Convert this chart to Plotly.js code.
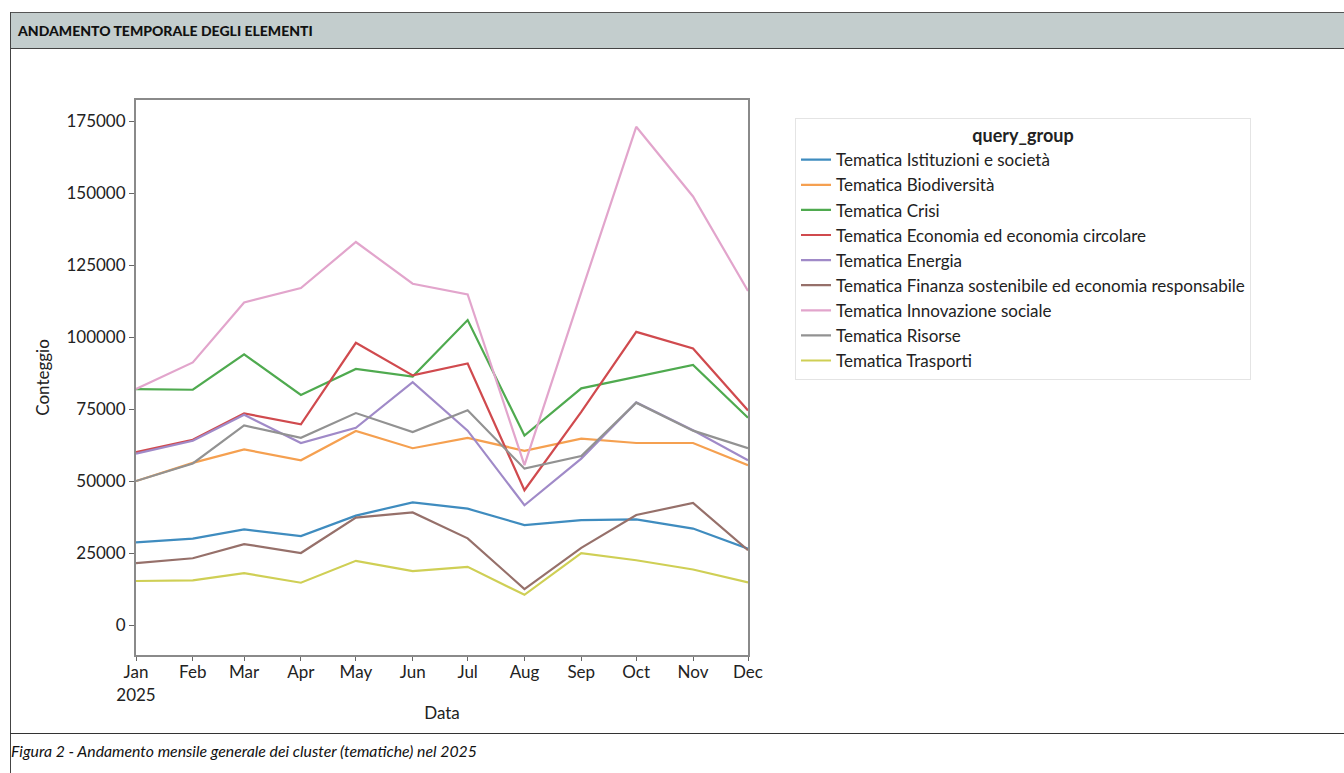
<!DOCTYPE html>
<html>
<head>
<meta charset="utf-8">
<script src="https://cdn.plot.ly/plotly-3.0.1.min.js"></script>
<style>
  html, body { margin: 0; padding: 0; width: 1344px; height: 773px; overflow: hidden; background: #fff; font-family: Lato, "Open Sans", sans-serif; }
  #chart { position: absolute; left: 0; top: 0; width: 1344px; height: 773px; }
  #frameLeft { position: absolute; left: 10px; top: 12px; width: 0; height: 761px; border-left: 1px solid #444; z-index: 5; }
  #header { position: absolute; left: 10px; top: 12px; width: 1334px; height: 35px; background: #c3cdcd; border-top: 1px solid #555; border-bottom: 1px solid #444; z-index: 5; }
  #header span { position: absolute; left: 8px; top: 9px; font-weight: 900; font-size: 14px; color: #111; letter-spacing: 0px; }
  #sep { position: absolute; left: 10px; top: 733px; width: 1334px; border-top: 1px solid #333; z-index: 5; }
  #caption { position: absolute; left: 11px; top: 741px; font-style: italic; font-size: 15.8px; color: #111; z-index: 5; }
</style>
</head>
<body>
<div id="chart"></div>
<div id="header"><span>ANDAMENTO TEMPORALE DEGLI ELEMENTI</span></div>
<div id="frameLeft"></div>
<div id="sep"></div>
<div id="caption">Figura 2 - Andamento mensile generale dei cluster (tematiche) nel 2025</div>
<script>
const months = ['2025-01-01','2025-02-01','2025-03-01','2025-04-01','2025-05-01','2025-06-01','2025-07-01','2025-08-01','2025-09-01','2025-10-01','2025-11-01','2025-12-01'];
const tickLabels = ['Jan<br>2025','Feb','Mar','Apr','May','Jun','Jul','Aug','Sep','Oct','Nov','Dec'];

const seriesNames = [
  'Tematica Istituzioni e società',
  'Tematica Biodiversità',
  'Tematica Crisi',
  'Tematica Economia ed economia circolare',
  'Tematica Energia',
  'Tematica Finanza sostenibile ed economia responsabile',
  'Tematica Innovazione sociale',
  'Tematica Risorse',
  'Tematica Trasporti'
];

const istituzioni = [28700, 30000, 33200, 30900, 38000, 42600, 40400, 34700, 36400, 36700, 33500, 26500];
const biodiversita = [50000, 56300, 61000, 57200, 67400, 61400, 65000, 60500, 64700, 63200, 63200, 55500];
const crisi = [81900, 81700, 94000, 79900, 88900, 86300, 105900, 65800, 82200, 86300, 90300, 72000];
const economia = [60000, 64300, 73500, 69700, 98000, 86700, 90800, 46800, 74000, 101800, 96000, 74500];
const energia = [59500, 64000, 73000, 63200, 68500, 84300, 67500, 41600, 57800, 77300, 67600, 57200];
const finanza = [21500, 23200, 28100, 25000, 37300, 39100, 30100, 12500, 26800, 38200, 42400, 26000];
const innovazione = [82000, 91200, 112000, 117000, 133000, 118500, 114800, 55500, 115500, 173000, 148800, 116000];
const risorse = [50000, 56100, 69300, 65000, 73600, 67000, 74600, 54300, 58700, 77200, 67500, 61400];
const trasporti = [15300, 15500, 18000, 14700, 22300, 18700, 20200, 10500, 25000, 22500, 19300, 14800];

const seriesValues = [istituzioni, biodiversita, crisi, economia, energia, finanza, innovazione, risorse, trasporti];
const colors = ['#3f8cbf', '#f5a050', '#4faa4f', '#d04a4e', '#a08ac8', '#96706a', '#e2a5cc', '#929292', '#cfcf55'];

const traces = seriesNames.map((name, i) => ({
  type: 'scatter',
  mode: 'lines',
  name: name,
  x: months,
  y: seriesValues[i],
  line: { color: colors[i], width: 2.2 }
}));

const axisFont = { family: 'Lato, "Open Sans", sans-serif', size: 17, color: '#222' };

const layout = {
  width: 1344,
  height: 773,
  paper_bgcolor: '#ffffff',
  plot_bgcolor: '#ffffff',
  margin: { l: 136, r: 596, t: 100, b: 118 },
  showlegend: true,
  font: axisFont,
  xaxis: {
    type: 'date',
    range: ['2025-01-01', '2025-12-01'],
    tickvals: months,
    ticktext: tickLabels,
    ticks: 'outside',
    ticklen: 4,
    tickcolor: '#666',
    ticklabelstandoff: -3,
    showline: true,
    linecolor: '#8a8a8a',
    linewidth: 2,
    mirror: true,
    showgrid: false,
    zeroline: false,
    tickfont: axisFont,
    title: { text: 'Data', font: axisFont, standoff: 4 }
  },
  yaxis: {
    range: [-10400, 182300],
    tickvals: [0, 25000, 50000, 75000, 100000, 125000, 150000, 175000],
    ticktext: ['0', '25000', '50000', '75000', '100000', '125000', '150000', '175000'],
    ticks: 'outside',
    ticklen: 5,
    tickcolor: '#666',
    showline: true,
    linecolor: '#8a8a8a',
    linewidth: 2,
    mirror: true,
    showgrid: false,
    zeroline: false,
    tickfont: axisFont,
    title: { text: 'Conteggio', font: axisFont, standoff: 12 }
  },
  legend: {
    x: 1.0768,
    y: 0.968,
    xanchor: 'left',
    yanchor: 'top',
    bgcolor: '#ffffff',
    bordercolor: '#e4e4e4',
    borderwidth: 1,
    font: { family: 'Lato, "Open Sans", sans-serif', size: 17, color: '#222' },
    title: { text: '<b>query_group</b>', side: 'top center', font: { family: 'Lato, "Open Sans", sans-serif', size: 18, color: '#222' } },
    tracegroupgap: 0
  }
};

Plotly.newPlot('chart', traces, layout, { staticPlot: true, displayModeBar: false });
</script>
</body>
</html>
